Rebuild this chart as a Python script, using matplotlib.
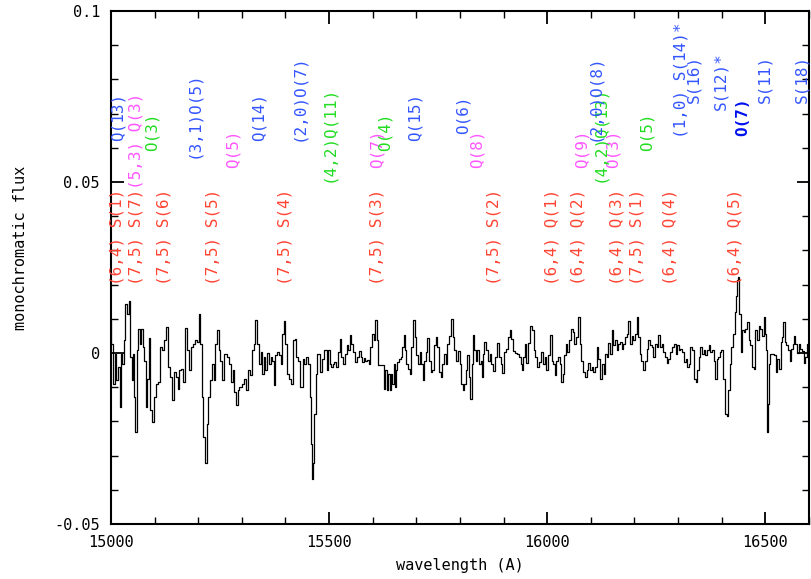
import matplotlib
matplotlib.use("Agg")
import matplotlib.pyplot as plt
import numpy as np
from matplotlib.ticker import MultipleLocator

# observed spectrum (wavelength in A, monochromatic flux)
spectrum = [
    (15000, 0.0095), (15002, 0.0027), (15007, -0.0090), (15010, -0.0002), (15014, -0.0080),
    (15018, -0.0041), (15021, -0.0158), (15024, -0.0002), (15027, -0.0031), (15031, 0.0037),
    (15035, 0.0144), (15039, 0.0115), (15042, 0.0152), (15045, -0.0012), (15049, -0.0080),
    (15052, -0.0002), (15054, -0.0129), (15058, -0.0231), (15060, 0.0008), (15064, 0.0071),
    (15067, 0.0027), (15071, 0.0071), (15074, 0.0017), (15078, -0.0022), (15081, -0.0158),
    (15085, -0.0075), (15088, 0.0045), (15092, -0.0168), (15098, -0.0202), (15101, -0.0129),
    (15106, -0.0090), (15111, -0.0085), (15115, 0.0017), (15120, 0.0008), (15124, 0.0037),
    (15129, 0.0076), (15133, -0.0041), (15138, -0.0070), (15142, -0.0138), (15146, -0.0056),
    (15150, -0.0070), (15155, -0.0104), (15159, -0.0051), (15164, -0.0046), (15167, -0.0085),
    (15172, 0.0074), (15176, 0.0008), (15180, -0.0051), (15185, 0.0017), (15190, 0.0027),
    (15194, 0.0037), (15199, 0.0032), (15203, 0.0115), (15207, 0.0027), (15210, -0.0129),
    (15214, -0.0245), (15218, -0.0323), (15220, -0.0207), (15226, -0.0129), (15230, -0.0080),
    (15233, -0.0031), (15237, -0.0080), (15241, 0.0027), (15245, 0.0066), (15249, 0.0008),
    (15252, -0.0022), (15256, -0.0080), (15262, -0.0002), (15268, -0.0012), (15274, -0.0031),
    (15277, -0.0085), (15281, -0.0051), (15285, -0.0114), (15288, -0.0153), (15292, -0.0109),
    (15297, -0.0099), (15302, -0.0090), (15307, -0.0075), (15312, -0.0109), (15316, -0.0051),
    (15321, -0.0065), (15326, 0.0008), (15329, 0.0027), (15333, 0.0097), (15337, 0.0027),
    (15341, -0.0031), (15345, 0.0003), (15349, -0.0061), (15352, -0.0012), (15356, -0.0051),
    (15360, 0.0000), (15364, -0.0031), (15368, -0.0012), (15371, -0.0022), (15375, -0.0095),
    (15379, -0.0007), (15384, 0.0003), (15388, -0.0007), (15391, -0.0031), (15394, 0.0056),
    (15398, 0.0093), (15402, 0.0027), (15406, -0.0061), (15410, -0.0075), (15414, -0.0090),
    (15419, 0.0037), (15423, 0.0042), (15426, -0.0012), (15431, -0.0022), (15435, -0.0100),
    (15439, -0.0100), (15442, -0.0017), (15445, -0.0031), (15449, -0.0012), (15454, -0.0031),
    (15457, -0.0129), (15459, -0.0265), (15461, -0.0367), (15464, -0.0323), (15467, -0.0177),
    (15471, -0.0061), (15474, -0.0004), (15478, -0.0004), (15482, -0.0056), (15486, -0.0017),
    (15492, 0.0008), (15496, -0.0051), (15500, 0.0008), (15503, -0.0031), (15507, -0.0041),
    (15510, -0.0031), (15514, -0.0027), (15518, -0.0041), (15522, 0.0003), (15526, 0.0042),
    (15529, -0.0012), (15534, -0.0031), (15538, -0.0002), (15542, 0.0022), (15545, 0.0008),
    (15549, 0.0054), (15553, 0.0027), (15557, 0.0003), (15561, -0.0027), (15566, -0.0012),
    (15570, 0.0006), (15574, -0.0012), (15577, -0.0027), (15581, -0.0014), (15585, -0.0024),
    (15589, -0.0020), (15593, -0.0033), (15596, 0.0017), (15600, 0.0056), (15604, 0.0037),
    (15608, 0.0097), (15612, 0.0037), (15614, -0.0036), (15619, -0.0036), (15623, -0.0036),
    (15627, -0.0104), (15631, -0.0051), (15633, -0.0107), (15637, -0.0061), (15640, -0.0107),
    (15643, -0.0061), (15646, -0.0090), (15650, -0.0031), (15651, -0.0100), (15654, -0.0051),
    (15658, -0.0027), (15662, -0.0017), (15666, -0.0012), (15670, 0.0017), (15672, 0.0054),
    (15675, 0.0008), (15679, -0.0031), (15683, -0.0046), (15686, -0.0061), (15690, 0.0017),
    (15695, 0.0097), (15698, 0.0046), (15702, -0.0007), (15706, -0.0031), (15709, 0.0003),
    (15713, -0.0031), (15716, -0.0080), (15719, -0.0022), (15723, 0.0003), (15727, 0.0045),
    (15731, -0.0022), (15735, -0.0056), (15738, -0.0051), (15742, 0.0022), (15746, 0.0046),
    (15750, 0.0017), (15754, -0.0056), (15757, -0.0070), (15761, -0.0031), (15765, -0.0002),
    (15769, -0.0031), (15773, 0.0027), (15777, 0.0051), (15782, 0.0100), (15785, 0.0046),
    (15788, 0.0008), (15793, -0.0022), (15797, 0.0006), (15801, -0.0031), (15805, -0.0090),
    (15808, -0.0109), (15811, -0.0090), (15815, -0.0051), (15818, -0.0007), (15822, -0.0070),
    (15825, -0.0134), (15828, -0.0031), (15831, 0.0054), (15834, 0.0008), (15838, -0.0022),
    (15841, 0.0010), (15845, -0.0031), (15849, -0.0022), (15851, -0.0070), (15854, -0.0002),
    (15857, 0.0032), (15861, 0.0008), (15866, -0.0022), (15870, -0.0002), (15874, -0.0031),
    (15878, -0.0053), (15883, -0.0012), (15887, 0.0029), (15891, -0.0012), (15895, -0.0031),
    (15898, -0.0059), (15902, 0.0003), (15907, 0.0013), (15912, 0.0046), (15916, 0.0068),
    (15920, 0.0042), (15924, 0.0006), (15929, 0.0000), (15933, -0.0002), (15937, -0.0012),
    (15941, -0.0031), (15944, -0.0049), (15947, -0.0012), (15950, 0.0027), (15954, -0.0029),
    (15957, 0.0029), (15962, 0.0078), (15967, 0.0066), (15971, 0.0008), (15975, -0.0012),
    (15979, -0.0041), (15983, -0.0027), (15989, 0.0003), (15992, -0.0031), (15996, -0.0012),
    (16000, -0.0051), (16004, -0.0007), (16008, 0.0054), (16012, -0.0022), (16016, -0.0031),
    (16019, -0.0065), (16023, -0.0022), (16027, -0.0012), (16031, -0.0031), (16033, -0.0085),
    (16037, -0.0061), (16040, -0.0007), (16044, 0.0027), (16048, 0.0003), (16052, 0.0037),
    (16056, 0.0071), (16060, 0.0061), (16063, 0.0027), (16067, 0.0047), (16073, 0.0105),
    (16076, 0.0027), (16080, -0.0022), (16084, -0.0056), (16088, -0.0070), (16092, -0.0051),
    (16096, -0.0029), (16100, -0.0051), (16104, -0.0041), (16108, -0.0056), (16111, -0.0041),
    (16115, 0.0017), (16119, -0.0017), (16123, -0.0075), (16127, -0.0031), (16131, -0.0061),
    (16134, -0.0002), (16138, -0.0012), (16142, 0.0029), (16146, -0.0002), (16150, 0.0066),
    (16153, 0.0022), (16157, 0.0037), (16161, 0.0008), (16165, 0.0027), (16169, 0.0032),
    (16172, 0.0012), (16176, 0.0027), (16180, 0.0046), (16184, 0.0056), (16188, 0.0095),
    (16192, 0.0027), (16195, 0.0051), (16199, 0.0037), (16203, 0.0056), (16207, 0.0105),
    (16211, 0.0046), (16214, -0.0002), (16218, -0.0022), (16222, -0.0051), (16226, -0.0022),
    (16230, 0.0013), (16234, 0.0039), (16237, 0.0022), (16241, 0.0017), (16245, -0.0012),
    (16249, 0.0027), (16253, 0.0017), (16256, 0.0054), (16260, 0.0017), (16264, 0.0027),
    (16268, 0.0003), (16272, -0.0012), (16275, -0.0029), (16279, -0.0017), (16283, 0.0003),
    (16287, 0.0017), (16292, 0.0027), (16296, -0.0002), (16300, 0.0022), (16303, 0.0008),
    (16307, 0.0012), (16311, 0.0003), (16315, -0.0027), (16319, -0.0017), (16322, -0.0041),
    (16326, -0.0031), (16330, 0.0017), (16334, 0.0008), (16338, -0.0075), (16342, -0.0085),
    (16345, -0.0051), (16349, -0.0012), (16353, 0.0017), (16357, -0.0002), (16361, 0.0008),
    (16364, -0.0007), (16368, 0.0008), (16372, 0.0022), (16376, 0.0003), (16380, 0.0008),
    (16384, -0.0022), (16386, -0.0075), (16390, -0.0017), (16393, -0.0012), (16397, 0.0003),
    (16401, 0.0010), (16405, -0.0075), (16409, -0.0177), (16413, -0.0185), (16416, -0.0109),
    (16420, -0.0031), (16424, 0.0017), (16428, 0.0056), (16432, 0.0119), (16434, 0.0168),
    (16436, 0.0212), (16439, 0.0222), (16442, 0.0115), (16445, 0.0003), (16448, 0.0066),
    (16452, 0.0061), (16456, 0.0071), (16460, 0.0090), (16464, 0.0037), (16467, 0.0022),
    (16471, -0.0041), (16475, -0.0046), (16479, 0.0066), (16483, 0.0037), (16487, 0.0080),
    (16490, 0.0071), (16494, 0.0051), (16498, 0.0105), (16500, 0.0056), (16503, 0.0008),
    (16504, -0.0231), (16506, -0.0148), (16509, -0.0031), (16513, -0.0002), (16518, -0.0002),
    (16522, -0.0007), (16525, -0.0056), (16529, -0.0017), (16533, -0.0046), (16537, 0.0032),
    (16541, 0.0046), (16542, 0.0090), (16546, 0.0032), (16550, 0.0022), (16554, 0.0008),
    (16558, -0.0022), (16561, 0.0013), (16565, 0.0027), (16567, 0.0051), (16570, 0.0027),
    (16574, 0.0000), (16578, 0.0027), (16582, 0.0012), (16586, 0.0006), (16590, -0.0029),
    (16593, -0.0012), (16596, 0.0027), (16600, 0.0017),
]

# line identifications
red_names = ["(6,4) S(1)", "(7,5) S(7)", "(7,5) S(6)", "(7,5) S(5)", "(7,5) S(4)",
             "(7,5) S(3)", "(7,5) S(2)", "(6,4) Q(1)", "(6,4) Q(2)", "(6,4) Q(3)",
             "(7,5) S(1)", "(6,4) Q(4)", "(6,4) Q(5)"]
red_waves = [15014, 15057, 15121, 15233, 15400, 15610, 15879, 16010, 16071, 16159,
             16205, 16281, 16430]

magenta_names = ["(5,3) Q(3)", "Q(5)", "Q(7)", "Q(8)", "Q(9)", "O(3)"]
magenta_waves = [15057, 15281, 15610, 15839, 16079, 16151]

green_names = ["O(3)", "(4,2)Q(11)", "O(4)", "(4,2)Q(13)", "O(5)"]
green_waves = [15095, 15499, 15629, 16121, 16228]

blue_names = ["Q(13)", "(3,1)O(5)", "Q(14)", "(2,0)O(7)", "Q(15)", "O(6)",
              "(2,0)O(8)", "(1,0) S(14)*", "S(16)", "S(12)*", "S(11)", "S(18)"]
blue_waves = [15016, 15190, 15339, 15430, 15698, 15808, 16108, 16307, 16336,
              16398, 16499, 16584]

bold_name = "O(7)"
bold_wave = 16449

# heights where the labels start
red_levels = [0.020] * len(red_names)
magenta_levels = [0.048, 0.054, 0.054, 0.054, 0.054, 0.054]
green_levels = [0.059, 0.050, 0.059, 0.050, 0.059]
blue_levels = [0.062, 0.057, 0.062, 0.062, 0.062, 0.064, 0.062, 0.063, 0.073,
               0.071, 0.073, 0.073]
bold_level = 0.0634

FONT = "DejaVu Sans Mono"


def put_labels(ax, names, waves, levels, color, weight="normal"):
    for name, w, lev in zip(names, waves, levels):
        ax.text(w, lev, name, rotation=90, ha="center", va="bottom",
                color=color, fontsize=11.5, family=FONT, fontweight=weight)


def main():
    wave = np.array([p[0] for p in spectrum], dtype=float)
    flux = np.array([p[1] for p in spectrum], dtype=float)

    fig = plt.figure(figsize=(8.12, 5.79), dpi=100)
    ax = fig.add_axes([0.1367, 0.095, 0.8596, 0.886])

    ax.plot(wave, flux, color="black", lw=0.9, drawstyle="steps-mid")

    put_labels(ax, red_names, red_waves, red_levels, "#ff4433")
    put_labels(ax, magenta_names, magenta_waves, magenta_levels, "#ff55ff")
    put_labels(ax, green_names, green_waves, green_levels, "#22dd22")
    put_labels(ax, blue_names, blue_waves, blue_levels, "#3355ff")
    put_labels(ax, [bold_name], [bold_wave], [bold_level], "#0011ee", weight="bold")

    ax.set_xlim(15000, 16600)
    ax.set_ylim(-0.05, 0.1)
    ax.xaxis.set_major_locator(MultipleLocator(500))
    ax.xaxis.set_minor_locator(MultipleLocator(100))
    ax.yaxis.set_major_locator(MultipleLocator(0.05))
    ax.yaxis.set_minor_locator(MultipleLocator(0.01))
    ax.set_yticks([-0.05, 0, 0.05, 0.1])
    ax.set_yticklabels(["-0.05", "0", "0.05", "0.1"])

    ax.tick_params(which="both", direction="in", top=True, right=True,
                   labelsize=11, labelfontfamily=FONT)
    ax.tick_params(which="major", length=9, width=1.3, pad=8)
    ax.tick_params(which="minor", length=5, width=1.0)
    for sp in ax.spines.values():
        sp.set_linewidth(1.5)

    ax.set_xlabel("wavelength (A)", fontsize=11, family=FONT)
    ax.set_ylabel("monochromatic flux", fontsize=11, family=FONT)
    ax.xaxis.set_label_coords(0.5, -0.066)
    ax.yaxis.set_label_coords(-0.119, 0.538)

    fig.savefig("out.png", dpi=100)
    plt.close(fig)


if __name__ == "__main__":
    main()
